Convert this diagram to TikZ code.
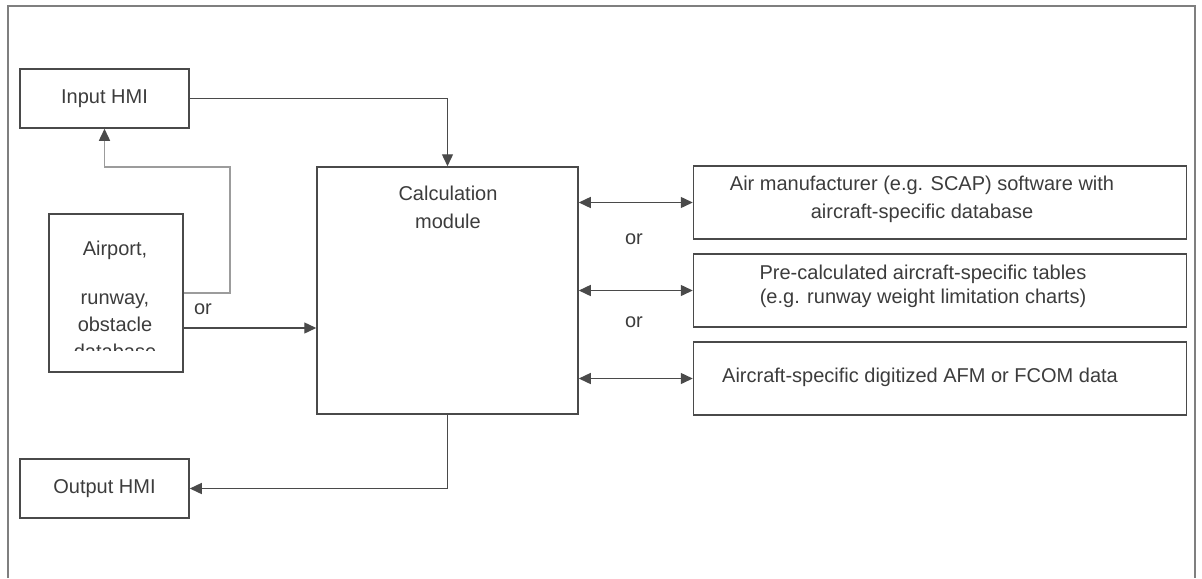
\documentclass[tikz,border=0pt]{standalone}
\usepackage{fontspec}
\setmainfont{Liberation Sans}
\usetikzlibrary{arrows.meta,positioning}
\definecolor{inkgray}{HTML}{3C3C3C}
\definecolor{linegray}{HTML}{4A4A4A}
\definecolor{lightline}{HTML}{9C9C9C}
\definecolor{framegray}{HTML}{7F7F7F}

\begin{document}
\begin{tikzpicture}[x=0.5pt, y=-0.5pt,
  every node/.style={font=\fontsize{10pt}{12pt}\selectfont, text=inkgray},
  box/.style={draw=linegray, line width=0.75pt, inner sep=0pt},
  hmibox/.style={box, minimum width=84.5pt, minimum height=29.5pt},
  srcbox/.style={box, minimum width=246.5pt, minimum height=36.5pt},
  link/.style={draw=linegray, line width=0.7pt, -{Triangle[length=6pt,width=5.5pt]}},
  biarrow/.style={link, {Triangle[length=6pt,width=5.5pt]}-{Triangle[length=6pt,width=5.5pt]}},
  greylink/.style={draw=lightline, line width=0.7pt, -{Triangle[length=6pt,width=5.5pt,color=linegray]}}]
\useasboundingbox (0,0) rectangle (1202,578);
% outer frame, open at the bottom
\draw[framegray, line width=1.2pt] (8,578) -- (8,6) -- (1195,6) -- (1195,578);
% left column
\node[hmibox] (inhmi) at (104.5,98.5) {Input HMI};
\node[box, minimum width=67pt, minimum height=79pt] (apt) at (116,293) {};
\node (apttxt) at (115,250) {Airport,};
\begin{scope}
  \clip (49,214) rectangle (183,350);
  \node[align=center, font=\fontsize{10pt}{13.5pt}\selectfont] (aptmore) at (115,326) {runway,\\obstacle\\database};
\end{scope}
\node[hmibox] (outhmi) at (104.5,488.5) {Output HMI};
% calculation module
\node[box, minimum width=130.5pt, minimum height=123.5pt] (calc) at (447.5,290.5) {};
\node[align=center, font=\fontsize{10pt}{14pt}\selectfont] (calctxt) at (448,207) {Calculation\\module};
% right column
\node[srcbox] (scap) at (940,202.5) {};
\node[align=center, font=\fontsize{10pt}{14pt}\selectfont] (scaptxt) at (922,199) {Air manufacturer (e.g. SCAP) software with\\aircraft-specific database};
\node[srcbox] (tables) at (940,290.5) {};
\node[align=center] (tablestxt) at (923,286) {Pre-calculated aircraft-specific tables\\(e.g. runway weight limitation charts)};
\node[srcbox] (afm) at (940,378.5) {};
\node (afmtxt) at (920,377) {Aircraft-specific digitized AFM or FCOM data};
% "or" labels
\node (or1) at (203,309) {or};
\node (or2) at (634,239) {or};
\node (or3) at (634,322) {or};
% connectors
\coordinate (bend) at (230,167);
\coordinate (aptout) at (183,328);
\draw[link] (inhmi.east) -| (calc.north);
\draw[greylink] (apt.east) -| (bend) -| (inhmi.south);
\draw[link] (aptout) -- (aptout -| calc.west);
\draw[link] (calc.south) |- (outhmi.east);
\draw[biarrow] (calc.east |- scap.west) -- (scap.west);
\draw[biarrow] (calc.east |- tables.west) -- (tables.west);
\draw[biarrow] (calc.east |- afm.west) -- (afm.west);
\end{tikzpicture}
\end{document}
